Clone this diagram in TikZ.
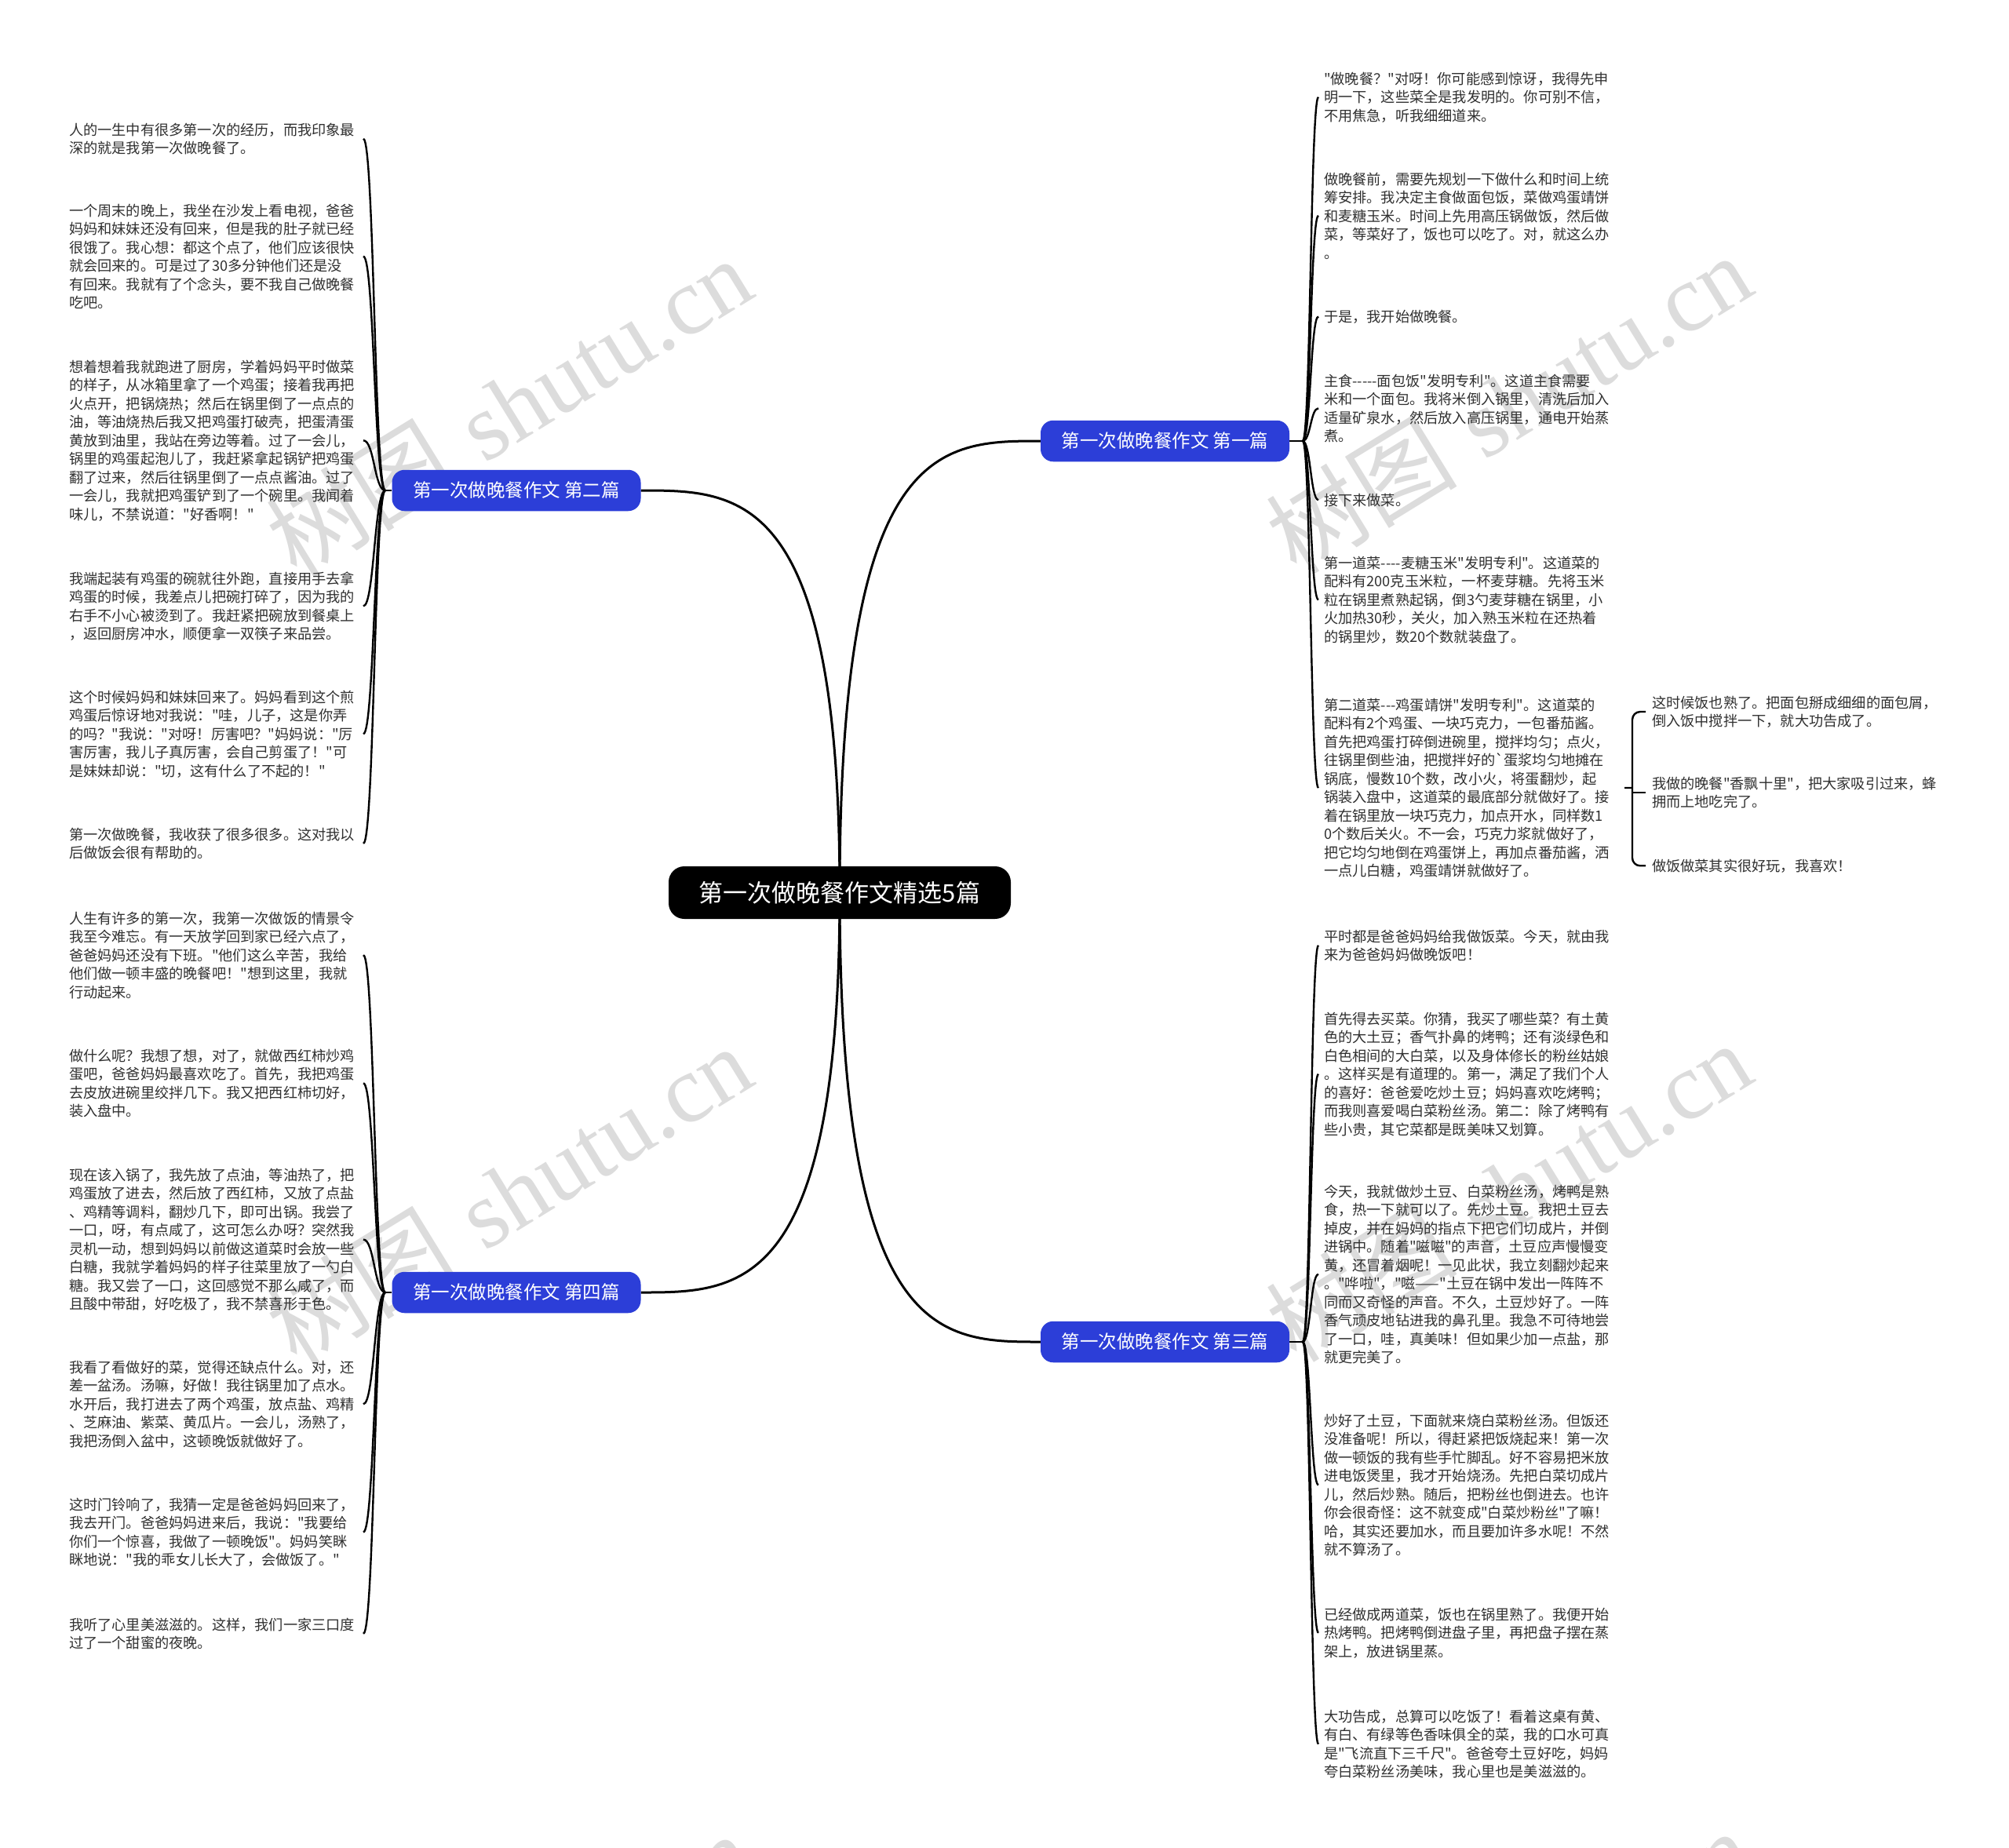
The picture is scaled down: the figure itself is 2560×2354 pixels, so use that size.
\documentclass[tikz,border=0pt]{standalone}
\usepackage{fontspec}
\newfontfamily\cjk{Noto Sans CJK SC}
\newfontfamily\wmserif{Liberation Serif}
\usetikzlibrary{calc}
\pgfdeclarelayer{background}
\pgfsetlayers{background,main}
\definecolor{branchblue}{RGB}{44,62,216}
\definecolor{leaftext}{RGB}{48,48,48}
\definecolor{wmgray}{RGB}{220,220,220}
\newcommand{\txtL}[1]{\parbox[t]{365pt}{\raggedright #1}}
\newcommand{\txtR}[1]{\parbox[t]{376pt}{\raggedright #1}}
\newcommand{\txtS}[1]{\parbox[t]{380pt}{\raggedright #1}}
\begin{document}
\begin{tikzpicture}[x=1pt,y=-1pt,
  leafL/.style={inner sep=0pt,outer xsep=10pt,outer ysep=0pt,anchor=base west,text=leaftext,font=\cjk\fontsize{18.2}{23.5}\selectfont},
  leafR/.style={leafL,outer xsep=7pt},
  leafS/.style={leafL,outer xsep=8pt},
  branch/.style={fill=branchblue,text=white,rounded corners=16pt,minimum width=317pt,minimum height=52.5pt,inner sep=0pt,font=\cjk\fontsize{23.5}{23.5}\selectfont},
  root/.style={fill=black,text=white,rounded corners=20pt,minimum width=436pt,minimum height=67pt,inner sep=0pt,font=\cjk\fontsize{31}{31}\selectfont},
  link/.style={line width=2.4pt,black},
  trunk/.style={line width=3pt,black},
  wm/.style={text=wmgray,rotate=31.6,inner sep=0pt,font=\fontsize{122}{122}\selectfont},
  sbend/.style={to path={.. controls ($(\tikztostart)!0.5!(\tikztostart-|\tikztotarget)$) and ($(\tikztotarget)!0.5!(\tikztotarget-|\tikztostart)$) .. (\tikztotarget)}}
]
\useasboundingbox (0,0) rectangle (2560,2354);

% root and branches
\node[root] (c) at (1070,1137.5) {第一次做晚餐作文精选5篇};
\node[branch] (b1) at (1484.5,562) {第一次做晚餐作文 第一篇};
\node[branch] (b2) at (658,625) {第一次做晚餐作文 第二篇};
\node[branch] (b3) at (1484.5,1710) {第一次做晚餐作文 第三篇};
\node[branch] (b4) at (658,1647) {第一次做晚餐作文 第四篇};

\coordinate (B1) at (1660,562);
\coordinate (B2) at (491,625);
\coordinate (B3) at (1660,1710);
\coordinate (B4) at (491,1647);

% left: second article
\node[leafL] (l21) at (78,172) {\txtL{人的一生中有很多第一次的经历，而我印象最\\深的就是我第一次做晚餐了。}};
\node[leafL] (l22) at (78,275) {\txtL{一个周末的晚上，我坐在沙发上看电视，爸爸\\妈妈和妹妹还没有回来，但是我的肚子就已经\\很饿了。我心想：都这个点了，他们应该很快\\就会回来的。可是过了30多分钟他们还是没\\有回来。我就有了个念头，要不我自己做晚餐\\吃吧。}};
\node[leafL] (l23) at (78,474) {\txtL{想着想着我就跑进了厨房，学着妈妈平时做菜\\的样子，从冰箱里拿了一个鸡蛋；接着我再把\\火点开，把锅烧热；然后在锅里倒了一点点的\\油，等油烧热后我又把鸡蛋打破壳，把蛋清蛋\\黄放到油里，我站在旁边等着。过了一会儿，\\锅里的鸡蛋起泡儿了，我赶紧拿起锅铲把鸡蛋\\翻了过来，然后往锅里倒了一点点酱油。过了\\一会儿，我就把鸡蛋铲到了一个碗里。我闻着\\味儿，不禁说道："好香啊！"}};
\node[leafL] (l24) at (78,744) {\txtL{我端起装有鸡蛋的碗就往外跑，直接用手去拿\\鸡蛋的时候，我差点儿把碗打碎了，因为我的\\右手不小心被烫到了。我赶紧把碗放到餐桌上\\，返回厨房冲水，顺便拿一双筷子来品尝。}};
\node[leafL] (l25) at (78,895) {\txtL{这个时候妈妈和妹妹回来了。妈妈看到这个煎\\鸡蛋后惊讶地对我说："哇，儿子，这是你弄\\的吗？"我说："对呀！厉害吧？"妈妈说："厉\\害厉害，我儿子真厉害，会自己剪蛋了！"可\\是妹妹却说："切，这有什么了不起的！"}};
\node[leafL] (l26) at (78,1070) {\txtL{第一次做晚餐，我收获了很多很多。这对我以\\后做饭会很有帮助的。}};

% left: fourth article
\node[leafL] (l41) at (78,1177) {\txtL{人生有许多的第一次，我第一次做饭的情景令\\我至今难忘。有一天放学回到家已经六点了，\\爸爸妈妈还没有下班。"他们这么辛苦，我给\\他们做一顿丰盛的晚餐吧！"想到这里，我就\\行动起来。}};
\node[leafL] (l42) at (78,1352) {\txtL{做什么呢？我想了想，对了，就做西红柿炒鸡\\蛋吧，爸爸妈妈最喜欢吃了。首先，我把鸡蛋\\去皮放进碗里绞拌几下。我又把西红柿切好，\\装入盘中。}};
\node[leafL] (l43) at (78,1504) {\txtL{现在该入锅了，我先放了点油，等油热了，把\\鸡蛋放了进去，然后放了西红柿，又放了点盐\\、鸡精等调料，翻炒几下，即可出锅。我尝了\\一口，呀，有点咸了，这可怎么办呀？突然我\\灵机一动，想到妈妈以前做这道菜时会放一些\\白糖，我就学着妈妈的样子往菜里放了一勺白\\糖。我又尝了一口，这回感觉不那么咸了，而\\且酸中带甜，好吃极了，我不禁喜形于色。}};
\node[leafL] (l44) at (78,1749) {\txtL{我看了看做好的菜，觉得还缺点什么。对，还\\差一盆汤。汤嘛，好做！我往锅里加了点水。\\水开后，我打进去了两个鸡蛋，放点盐、鸡精\\、芝麻油、紫菜、黄瓜片。一会儿，汤熟了，\\我把汤倒入盆中，这顿晚饭就做好了。}};
\node[leafL] (l45) at (78,1924) {\txtL{这时门铃响了，我猜一定是爸爸妈妈回来了，\\我去开门。爸爸妈妈进来后，我说："我要给\\你们一个惊喜，我做了一顿晚饭"。妈妈笑眯\\眯地说："我的乖女儿长大了，会做饭了。"}};
\node[leafL] (l46) at (78,2077) {\txtL{我听了心里美滋滋的。这样，我们一家三口度\\过了一个甜蜜的夜晚。}};

% right: first article
\node[leafR] (r11) at (1680,107) {\txtR{"做晚餐？"对呀！你可能感到惊讶，我得先申\\明一下，这些菜全是我发明的。你可别不信，\\不用焦急，听我细细道来。}};
\node[leafR] (r12) at (1680,235) {\txtR{做晚餐前，需要先规划一下做什么和时间上统\\筹安排。我决定主食做面包饭，菜做鸡蛋靖饼\\和麦糖玉米。时间上先用高压锅做饭，然后做\\菜，等菜好了，饭也可以吃了。对，就这么办\\。}};
\node[leafR] (r13) at (1680,410) {\txtR{于是，我开始做晚餐。}};
\node[leafR] (r14) at (1680,492) {\txtR{主食-----面包饭"发明专利"。这道主食需要\\米和一个面包。我将米倒入锅里，清洗后加入\\适量矿泉水，然后放入高压锅里，通电开始蒸\\煮。}};
\node[leafR] (r15) at (1680,644) {\txtR{接下来做菜。}};
\node[leafR] (r16) at (1680,724) {\txtR{第一道菜----麦糖玉米"发明专利"。这道菜的\\配料有200克玉米粒，一杯麦芽糖。先将玉米\\粒在锅里煮熟起锅，倒3勺麦芽糖在锅里，小\\火加热30秒，关火，加入熟玉米粒在还热着\\的锅里炒，数20个数就装盘了。}};
\node[leafR] (r17) at (1680,905) {\txtR{第二道菜---鸡蛋靖饼"发明专利"。这道菜的\\配料有2个鸡蛋、一块巧克力，一包番茄酱。\\首先把鸡蛋打碎倒进碗里，搅拌均匀；点火，\\往锅里倒些油，把搅拌好的`蛋浆均匀地摊在\\锅底，慢数10个数，改小火，将蛋翻炒，起\\锅装入盘中，这道菜的最底部分就做好了。接\\着在锅里放一块巧克力，加点开水，同样数1\\0个数后关火。不一会，巧克力浆就做好了，\\把它均匀地倒在鸡蛋饼上，再加点番茄酱，洒\\一点儿白糖，鸡蛋靖饼就做好了。}};

\node[leafS] (s1) at (2097,902) {\txtS{这时候饭也熟了。把面包掰成细细的面包屑，\\倒入饭中搅拌一下，就大功告成了。}};
\node[leafS] (s2) at (2097,1005) {\txtS{我做的晚餐"香飘十里"，把大家吸引过来，蜂\\拥而上地吃完了。}};
\node[leafS] (s3) at (2097,1110) {\txtS{做饭做菜其实很好玩，我喜欢！}};
\coordinate (J) at (2080,1004);

% right: third article
\node[leafR] (r31) at (1680,1200) {\txtR{平时都是爸爸妈妈给我做饭菜。今天，就由我\\来为爸爸妈妈做晚饭吧！}};
\node[leafR] (r32) at (1680,1305) {\txtR{首先得去买菜。你猜，我买了哪些菜？有土黄\\色的大土豆；香气扑鼻的烤鸭；还有淡绿色和\\白色相间的大白菜，以及身体修长的粉丝姑娘\\。这样买是有道理的。第一，满足了我们个人\\的喜好：爸爸爱吃炒土豆；妈妈喜欢吃烤鸭；\\而我则喜爱喝白菜粉丝汤。第二：除了烤鸭有\\些小贵，其它菜都是既美味又划算。}};
\node[leafR] (r33) at (1680,1525) {\txtR{今天，我就做炒土豆、白菜粉丝汤，烤鸭是熟\\食，热一下就可以了。先炒土豆。我把土豆去\\掉皮，并在妈妈的指点下把它们切成片，并倒\\进锅中。随着"嗞嗞"的声音，土豆应声慢慢变\\黄，还冒着烟呢！一见此状，我立刻翻炒起来\\。"哗啦"，"嗞——"土豆在锅中发出一阵阵不\\同而又奇怪的声音。不久，土豆炒好了。一阵\\香气顽皮地钻进我的鼻孔里。我急不可待地尝\\了一口，哇，真美味！但如果少加一点盐，那\\就更完美了。}};
\node[leafR] (r34) at (1680,1817) {\txtR{炒好了土豆，下面就来烧白菜粉丝汤。但饭还\\没准备呢！所以，得赶紧把饭烧起来！第一次\\做一顿饭的我有些手忙脚乱。好不容易把米放\\进电饭煲里，我才开始烧汤。先把白菜切成片\\儿，然后炒熟。随后，把粉丝也倒进去。也许\\你会很奇怪：这不就变成"白菜炒粉丝"了嘛！\\哈，其实还要加水，而且要加许多水呢！不然\\就不算汤了。}};
\node[leafR] (r35) at (1680,2064) {\txtR{已经做成两道菜，饭也在锅里熟了。我便开始\\热烤鸭。把烤鸭倒进盘子里，再把盘子摆在蒸\\架上，放进锅里蒸。}};
\node[leafR] (r36) at (1680,2194) {\txtR{大功告成，总算可以吃饭了！看着这桌有黄、\\有白、有绿等色香味俱全的菜，我的口水可真\\是"飞流直下三千尺"。爸爸夸土豆好吃，妈妈\\夸白菜粉丝汤美味，我心里也是美滋滋的。}};

\begin{pgfonlayer}{background}
  \fill[white] (0,0) rectangle (2560,2354);
  \begin{scope}
    \clip (0,0) rectangle (2560,2354);
    \foreach \wx/\wy in {648/518,648/1522,1922/514,1922/1518,648/2526,1922/2522}{
      \node[wm] at (\wx,\wy) {{\cjk 树图} {\wmserif shutu.cn}};
    }
  \end{scope}
  % trunks
  \draw[trunk] (c.center) .. controls (c.center |- b1.west) and ($(c.center |- b1.west)!0.5!(b1.west)$) .. (b1.west);
  \draw[trunk] (c.center) .. controls (c.center |- b2.east) and ($(c.center |- b2.east)!0.5!(b2.east)$) .. (b2.east);
  \draw[trunk] (c.center) .. controls (c.center |- b3.west) and ($(c.center |- b3.west)!0.5!(b3.west)$) .. (b3.west);
  \draw[trunk] (c.center) .. controls (c.center |- b4.east) and ($(c.center |- b4.east)!0.5!(b4.east)$) .. (b4.east);
  % stubs
  \draw[link] (b1.east) -- (B1);
  \draw[link] (b2.west) -- (B2);
  \draw[link] (b3.east) -- (B3);
  \draw[link] (b4.west) -- (B4);
  % leaves
  \foreach \n in {r11,r12,r13,r14,r15,r16,r17}{\draw[link] (B1) to[sbend] (\n.west);}
  \foreach \n in {r31,r32,r33,r34,r35,r36}{\draw[link] (B3) to[sbend] (\n.west);}
  \foreach \n in {l21,l22,l23,l24,l25,l26}{\draw[link] (B2) to[sbend] (\n.east);}
  \foreach \n in {l41,l42,l43,l44,l45,l46}{\draw[link] (B4) to[sbend] (\n.east);}
  % sub-branch
  \draw[link] (r17.east) -- (J);
  \draw[link,rounded corners=10pt] (s1.west) -| (J) |- (s3.west);
  \draw[link] (J |- s2.west) -- (s2.west);
\end{pgfonlayer}
\end{tikzpicture}
\end{document}
